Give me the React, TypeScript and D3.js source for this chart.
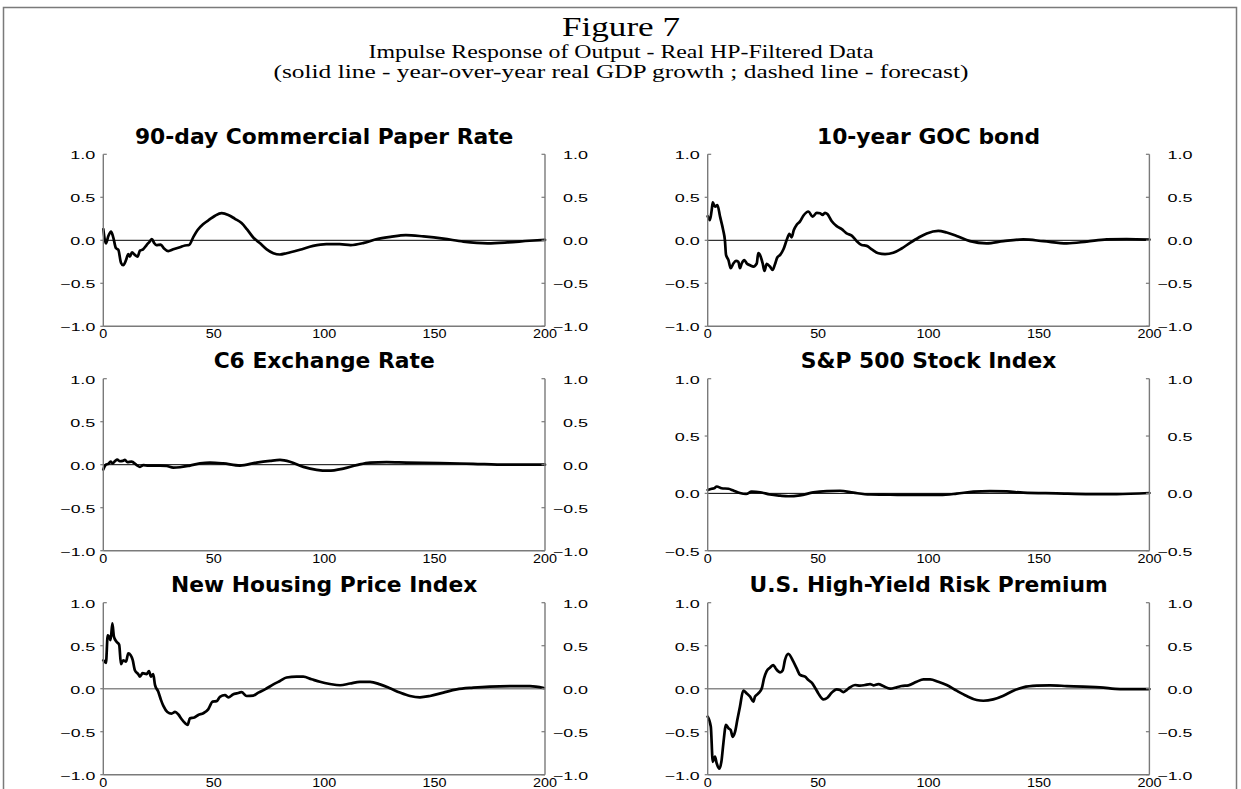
import React from "react";
import * as d3 from "d3";

const W = 1241;
const H = 789;

const xTicks = [0, 50, 100, 150, 200];
const yTicksFull = [-1, -0.5, 0, 0.5, 1];
const yTicksShort = [-0.5, 0, 0.5, 1];

const figureTitle = "Figure 7";
const subtitle1 = "Impulse Response of Output - Real HP-Filtered Data";
const subtitle2 = "(solid line - year-over-year real GDP growth ; dashed line - forecast)";

const panelTitles = [
  "90-day Commercial Paper Rate",
  "10-year GOC bond",
  "C6 Exchange Rate",
  "S&P 500 Stock Index",
  "New Housing Price Index",
  "U.S. High-Yield Risk Premium",
];

const cpRate: [number, number][] = [[0,0.13],[1.2,-0.035],[2.3,0.05],[3.5,0.10],[4.5,0.035],[5.7,-0.09],[6.8,-0.11],[8,-0.26],[9,-0.29],[10.3,-0.23],[11.3,-0.16],[12,-0.19],[13,-0.14],[14.3,-0.17],[15.5,-0.19],[16.6,-0.12],[18,-0.105],[19.6,-0.055],[21,-0.015],[22,0.015],[23,-0.03],[24,-0.055],[26,-0.05],[27.5,-0.095],[29.4,-0.125],[31.7,-0.105],[34.7,-0.08],[37,-0.06],[38.8,-0.055],[40.8,0.04],[42.7,0.12],[45.3,0.19],[48.3,0.245],[50.6,0.285],[53.6,0.315],[56.6,0.295],[59.6,0.25],[62.6,0.2],[65,0.13],[68,0.03],[71,-0.035],[74,-0.105],[77,-0.15],[80,-0.165],[83,-0.15],[89,-0.11],[95,-0.065],[101,-0.045],[107,-0.045],[112,-0.055],[118,-0.03],[124,0.015],[130,0.04],[137,0.06],[145,0.045],[154,0.02],[163,-0.015],[174,-0.035],[183,-0.025],[193,-0.005],[200,0.005]];

const gocBond: [number, number][] = [[0,0.28],[1,0.235],[1.8,0.35],[2.3,0.44],[3.3,0.39],[4.4,0.41],[5.6,0.275],[7,0.12],[7.8,0.0],[8.3,-0.17],[9.4,-0.23],[10.4,-0.325],[11.6,-0.27],[12.8,-0.24],[13.9,-0.25],[14.6,-0.325],[15.4,-0.27],[16.6,-0.23],[17.7,-0.27],[19.2,-0.29],[20.7,-0.305],[22.2,-0.27],[22.9,-0.15],[24,-0.19],[24.9,-0.27],[25.7,-0.355],[26.7,-0.275],[28.2,-0.305],[29.4,-0.345],[30.5,-0.275],[31.5,-0.2],[32.8,-0.17],[34.3,-0.105],[35.8,0.005],[37,0.075],[38,0.035],[39,0.12],[40.3,0.18],[41.8,0.22],[43.3,0.285],[45.6,0.335],[47.5,0.275],[49.4,0.32],[50.9,0.315],[52,0.295],[53.1,0.32],[54.2,0.305],[56.1,0.225],[58.4,0.165],[60.7,0.13],[62.9,0.08],[65.2,0.055],[67.5,-0.01],[69.7,-0.055],[72,-0.065],[74.3,-0.105],[77.3,-0.15],[80.3,-0.16],[84,-0.145],[87.8,-0.095],[91.6,-0.03],[95.4,0.03],[99.2,0.08],[104.4,0.11],[108.2,0.09],[112.7,0.05],[118.8,-0.01],[126.3,-0.035],[133.9,-0.01],[142.9,0.01],[152,-0.01],[162.6,-0.035],[171.6,-0.015],[180.7,0.01],[189.7,0.015],[200,0.008]];

const c6Rate: [number, number][] = [[0,-0.055],[1.2,0],[2.3,0.01],[3.3,0.035],[4.2,0.015],[5.4,0.045],[6.3,0.06],[7.5,0.04],[8.8,0.045],[9.8,0.055],[10.9,0.03],[12.8,0.035],[15.1,-0.005],[16.6,-0.025],[18.1,-0.005],[20.4,-0.01],[22.6,-0.01],[25.7,-0.01],[28.7,-0.015],[31.7,-0.035],[34.7,-0.03],[39.2,-0.01],[43.8,0.015],[48.3,0.025],[54.3,0.015],[61.9,-0.01],[69.4,0.025],[75.5,0.045],[80,0.055],[84.5,0.035],[90.6,-0.025],[96.6,-0.06],[101.9,-0.07],[108.7,-0.045],[114.7,-0.005],[120.8,0.025],[128.3,0.03],[137.3,0.025],[152.4,0.02],[167.5,0.01],[182.6,0],[200,0]];

const spIndex: [number, number][] = [[0,0.03],[1.8,0.04],[2.9,0.045],[4.1,0.06],[6.3,0.045],[9.4,0.04],[11.6,0.025],[14.6,0.003],[17.4,-0.005],[19.9,0.015],[23.7,0.01],[28.2,-0.01],[32.8,-0.02],[36.5,-0.025],[41.8,-0.017],[47.8,0.008],[53.9,0.02],[59.9,0.023],[66,0.006],[73.5,-0.01],[82.6,-0.012],[94.6,-0.014],[105.2,-0.014],[112.7,-0.003],[120.3,0.015],[127.8,0.02],[135.4,0.017],[142.9,0.006],[158,0],[173.1,-0.006],[185.2,-0.006],[200,0.003]];

const housing: [number, number][] = [[0,0.33],[1.2,0.30],[2,0.62],[2.7,0.60],[3.3,0.565],[4.1,0.76],[4.8,0.605],[6,0.545],[7.2,0.51],[8,0.285],[9,0.33],[10.3,0.315],[11.3,0.41],[12.4,0.39],[13.3,0.335],[14.3,0.215],[15.8,0.17],[16.6,0.14],[17.8,0.18],[19.6,0.17],[20.7,0.205],[21.6,0.14],[22.6,0.17],[23.4,0.045],[24.9,-0.035],[26.1,-0.13],[27.2,-0.2],[29,-0.27],[30.9,-0.29],[32.5,-0.27],[34,-0.3],[35.5,-0.355],[37,-0.4],[38.2,-0.42],[39.2,-0.345],[41.2,-0.335],[43,-0.305],[45.3,-0.285],[47.5,-0.24],[49.5,-0.15],[51.3,-0.145],[52.8,-0.095],[55.1,-0.075],[56.6,-0.1],[58.9,-0.065],[60.4,-0.055],[62.6,-0.04],[64.9,-0.085],[67.9,-0.08],[70.2,-0.045],[73.2,-0.008],[77,0.05],[80,0.09],[83,0.13],[87.5,0.14],[90.5,0.14],[94.3,0.11],[98.1,0.08],[102.6,0.055],[107.2,0.04],[111.7,0.06],[116.2,0.08],[120.8,0.08],[125.3,0.05],[129.8,0.005],[134.3,-0.045],[138.9,-0.085],[143.4,-0.1],[147.9,-0.085],[154,-0.045],[160,-0.008],[167.5,0.012],[175,0.025],[184.1,0.03],[193.2,0.03],[199.5,0.008]];

const hyPremium: [number, number][] = [[0,-0.325],[1.4,-0.44],[2.3,-0.85],[3.3,-0.79],[4.1,-0.87],[5.3,-0.93],[6.3,-0.83],[7.1,-0.635],[8.3,-0.42],[9.4,-0.46],[10.4,-0.48],[11.3,-0.56],[12.4,-0.5],[13.4,-0.365],[14.6,-0.21],[16.1,-0.023],[17.7,-0.055],[19.2,-0.093],[20.7,-0.15],[21.4,-0.093],[22.9,-0.055],[24.5,0.005],[25.5,0.12],[26.7,0.205],[28.2,0.245],[29.7,0.275],[30.8,0.235],[32.8,0.19],[34,0.215],[35,0.335],[36.5,0.405],[38.8,0.314],[40.3,0.236],[41.8,0.16],[44.1,0.14],[45.6,0.1],[47.1,0.07],[48.6,0.012],[50.1,-0.055],[52.4,-0.124],[54.2,-0.105],[56.1,-0.047],[58.4,-0.008],[59.9,-0.016],[61.4,-0.04],[62.9,-0.016],[64.4,0.016],[66.7,0.043],[69,0.035],[71.2,0.043],[73.5,0.054],[75,0.039],[77.3,0.054],[79.5,0.031],[82.6,0],[85.6,0.016],[87.8,0.031],[90.9,0.039],[94.6,0.081],[97.7,0.109],[100.7,0.109],[104.4,0.081],[108.2,0.043],[112.7,-0.023],[117.3,-0.085],[121.8,-0.132],[124.8,-0.14],[129.3,-0.124],[133.9,-0.081],[138.4,-0.023],[142.9,0.016],[149,0.035],[155,0.039],[162.6,0.031],[170.1,0.023],[177.6,0.016],[186.7,-0.004],[200,-0.004]];

const seriesList = [cpRate, gocBond, c6Rate, spIndex, housing, hyPremium];
const yDomains: [number, number][] = [[-1, 1], [-1, 1], [-1, 1], [-0.5, 1], [-1, 1], [-1, 1]];
const yTickSets = [yTicksFull, yTicksFull, yTicksFull, yTicksShort, yTicksFull, yTicksFull];

const colX = [103.3, 707.7];
const panelW = 441.7;
const rowY = [154.3, 378.7, 602.7];
const panelH = 172;

const axisColor = "#7a7a7a";
const labelFont = "'Liberation Sans', Arial, sans-serif";
const serif = "'Liberation Serif', 'Times New Roman', serif";

function fmt(v: number) {
  return (v < 0 ? "\u2212" : "") + Math.abs(v).toFixed(1);
}

function Panel({ idx }: { idx: number }) {
  const col = idx % 2;
  const row = Math.floor(idx / 2);
  const x0 = colX[col];
  const x1 = x0 + panelW;
  const y0 = rowY[row];
  const y1 = y0 + panelH;
  const x = d3.scaleLinear().domain([0, 200]).range([x0, x1]);
  const y = d3.scaleLinear().domain(yDomains[idx]).range([y1, y0]);
  const line = d3
    .line<[number, number]>()
    .x((d) => x(d[0]))
    .y((d) => y(d[1]))
    .curve(d3.curveMonotoneX);
  const ticks = yTickSets[idx];
  const top = yDomains[idx][1];
  const zeroColor = row === 2 ? "#8a8a8a" : "#000";
  const zeroW = row === 2 ? 1.6 : 1;
  return (
    <g>
      <text
        x={(x0 + x1) / 2}
        y={y0 - 10.5}
        textAnchor="middle"
        fontFamily="'DejaVu Sans', sans-serif"
        fontWeight="bold"
        fontSize={21.8}
      >
        {panelTitles[idx]}
      </text>
      <line x1={x0} x2={x1} y1={y(0)} y2={y(0)} stroke={zeroColor} strokeWidth={zeroW} />
      <path d={line(seriesList[idx]) || ""} fill="none" stroke="#000" strokeWidth={2.7} strokeLinejoin="round" strokeLinecap="round" />
      <line x1={x0} x2={x0} y1={y0} y2={y1} stroke={axisColor} strokeWidth={1.4} />
      <line x1={x1} x2={x1} y1={y0} y2={y1} stroke={axisColor} strokeWidth={1.4} />
      <line x1={x0} x2={x1} y1={y1} y2={y1} stroke={axisColor} strokeWidth={1.4} />
      {ticks.map((t) => (
        <g key={"t" + t}>
          <line
            x1={x0}
            x2={t === top ? x0 + 3.5 : x0 - 3}
            y1={y(t)}
            y2={y(t)}
            stroke={axisColor}
            strokeWidth={1.2}
          />
          <line x1={x1} x2={x1 - 3.5} y1={y(t)} y2={y(t)} stroke={axisColor} strokeWidth={1.2} />
          <text
            x={x0 - 8}
            y={y(t) + 5}
            textAnchor="end"
            fontFamily={labelFont}
            fontSize={11}
            textLength={t < 0 ? 35 : 25}
            lengthAdjust="spacingAndGlyphs"
          >
            {fmt(t)}
          </text>
          <text
            x={x1 + (t < 0 ? 8 : 18)}
            y={y(t) + 5}
            textAnchor="start"
            fontFamily={labelFont}
            fontSize={11}
            textLength={t < 0 ? 35 : 25}
            lengthAdjust="spacingAndGlyphs"
          >
            {fmt(t)}
          </text>
        </g>
      ))}
      {xTicks.map((t) => {
        const s = String(t);
        const len = s.length * 8;
        return (
          <text
            key={"x" + t}
            x={x(t) - len / 2}
            y={y1 + 12}
            fontFamily={labelFont}
            fontSize={12}
            textLength={len}
            lengthAdjust="spacingAndGlyphs"
          >
            {s}
          </text>
        );
      })}
    </g>
  );
}

export default function App() {
  return (
    <svg
      width={W}
      height={H}
      style={{ position: "absolute", left: 0, top: 0, background: "#fff" }}
    >
      <rect x={0} y={0} width={W} height={H} fill="#fff" />
      <rect x={3.5} y={7.5} width={1233} height={820} fill="none" stroke="#7a7a7a" strokeWidth={1.5} />
      <text x={621} y={36} fontFamily={serif} fontSize={28}
        textAnchor="middle" textLength={118} lengthAdjust="spacingAndGlyphs">
        {figureTitle}
      </text>
      <text x={621} y={57.5} textAnchor="middle" fontFamily={serif} fontSize={19.5}
        textLength={505} lengthAdjust="spacingAndGlyphs">
        {subtitle1}
      </text>
      <text x={621} y={78} textAnchor="middle" fontFamily={serif} fontSize={19.5}
        textLength={695} lengthAdjust="spacingAndGlyphs">
        {subtitle2}
      </text>
      {panelTitles.map((_, i) => (
        <Panel key={i} idx={i} />
      ))}
    </svg>
  );
}
